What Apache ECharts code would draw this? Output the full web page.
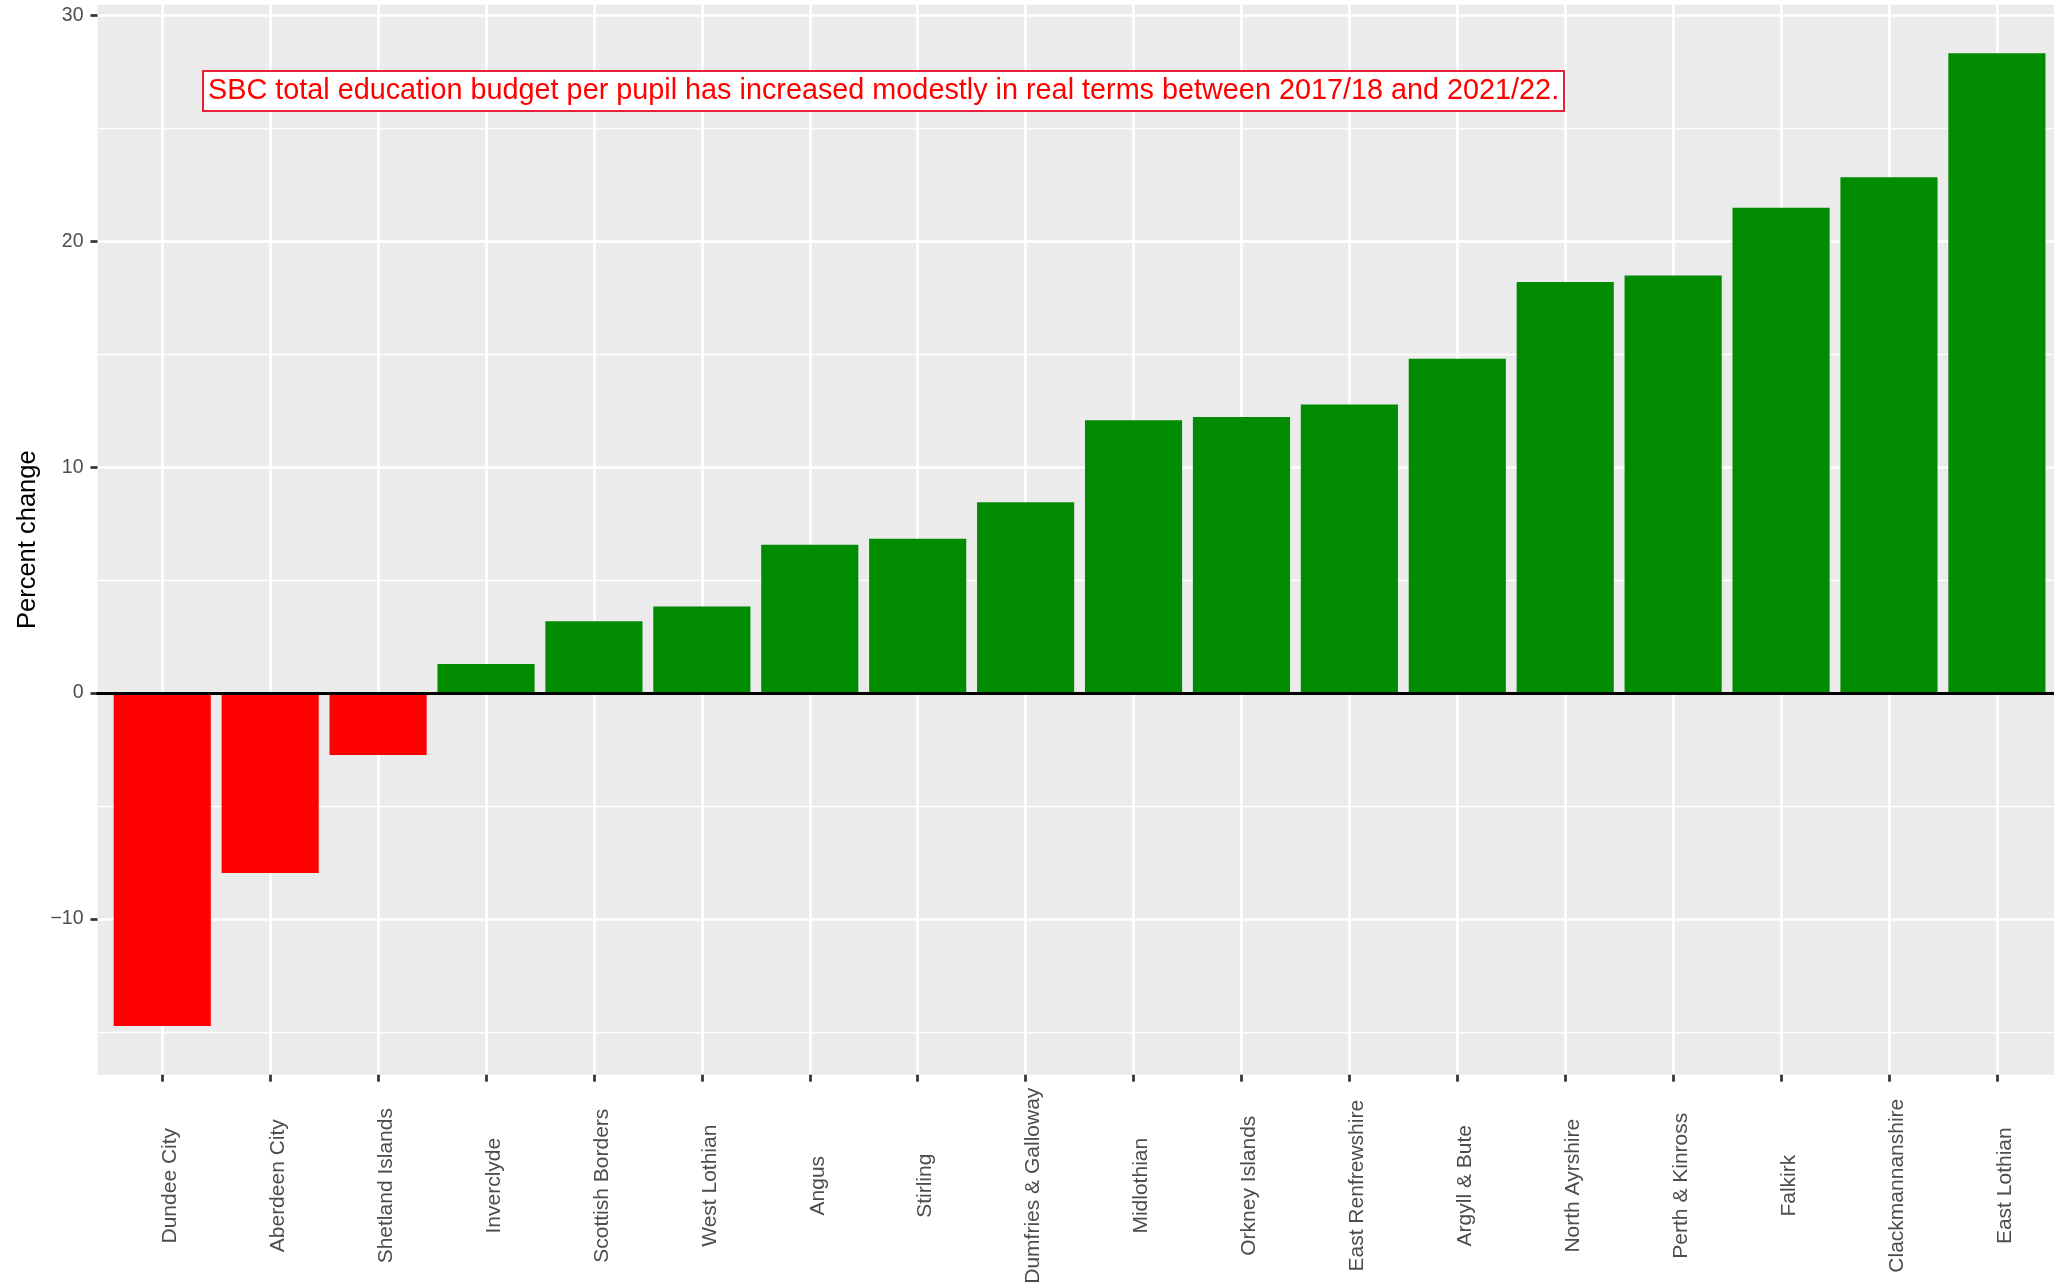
<!DOCTYPE html>
<html>
<head>
<meta charset="utf-8">
<title>Change in education budget per pupil</title>
<script src="https://cdn.jsdelivr.net/npm/echarts@6/dist/echarts.min.js"></script>
<style>
  html, body { margin: 0; padding: 0; background: #fff; }
  #chart { width: 2054px; height: 1287px; }
</style>
</head>
<body>
<div id="chart"></div>
<script>
const councils = [
  'Dundee City', 'Aberdeen City', 'Shetland Islands', 'Inverclyde', 'Scottish Borders',
  'West Lothian', 'Angus', 'Stirling', 'Dumfries & Galloway', 'Midlothian',
  'Orkney Islands', 'East Renfrewshire', 'Argyll & Bute', 'North Ayrshire',
  'Perth & Kinross', 'Falkirk', 'Clackmannanshire', 'East Lothian'
]
const pctChange = [
  -14.74, -7.96, -2.74, 1.29, 3.18,
  3.83, 6.57, 6.83, 8.45, 12.08,
  12.22, 12.77, 14.80, 18.20,
  18.48, 21.49, 22.83, 28.32
]
const majorTicks = [-10, 0, 10, 20, 30]
const minorTicks = [-15, -5, 5, 15, 25]
const note = 'SBC total education budget per pupil has increased modestly in real terms between 2017/18 and 2021/22.'

const FONT = '"Liberation Sans", Arial, sans-serif'
const GREEN = '#008B00'
const RED = '#FF0000'
const PANEL = '#EBEBEB'

// panel layout in pixels (ggplot style: 0.6 band padding on a discrete axis, 5% on y)
const panelLeft = 97.5
const panelTop = 4.7
const panelBottom = 1074.7
const step = 107.92
const firstCenter = panelLeft + 0.6 * step

const lo = Math.min(0, ...pctChange)
const hi = Math.max(0, ...pctChange)
const yMin = lo - 0.05 * (hi - lo)
const yMax = hi + 0.05 * (hi - lo)
const py = (v) => panelTop + (yMax - v) / (yMax - yMin) * (panelBottom - panelTop)

const W = 2054, H = 1287
const hidden = { show: false }

const chart = echarts.init(document.getElementById('chart'), null, { renderer: 'canvas' })

chart.setOption({
  animation: false,
  backgroundColor: '#fff',
  title: {
    text: note,
    left: 203,
    top: 71,
    padding: [5, 5],
    backgroundColor: '#fff',
    borderColor: '#E8203A',
    borderWidth: 2,
    textStyle: { color: RED, fontSize: 28.8, fontWeight: 'normal', fontFamily: FONT, lineHeight: 30 },
  },
  grid: [
    // 0: panel background, zero line, y title
    { left: panelLeft, width: W - panelLeft, top: panelTop, height: panelBottom - panelTop,
      show: true, backgroundColor: PANEL, borderWidth: 0, outerBoundsMode: 'none' },
    // 1: major horizontal lines + y labels
    { left: panelLeft, width: W - panelLeft, top: py(majorTicks[majorTicks.length - 1]),
      height: py(majorTicks[0]) - py(majorTicks[majorTicks.length - 1]), outerBoundsMode: 'none' },
    // 2: minor horizontal lines
    { left: panelLeft, width: W - panelLeft, top: py(minorTicks[minorTicks.length - 1]),
      height: py(minorTicks[0]) - py(minorTicks[minorTicks.length - 1]), outerBoundsMode: 'none' },
    // 3: vertical lines, x ticks and labels (category centres)
    { left: firstCenter, width: step * (councils.length - 1), top: panelTop,
      height: panelBottom - panelTop, outerBoundsMode: 'none' },
    // 4: bars
    { left: firstCenter - step / 2, width: step * councils.length, top: panelTop,
      height: panelBottom - panelTop, outerBoundsMode: 'none' },
  ],
  xAxis: [
    { gridIndex: 0, type: 'value', min: 0, max: 1, z: 5,
      axisLine: { show: true, onZero: true, lineStyle: { color: '#000', width: 3 } },
      axisTick: hidden, axisLabel: hidden, splitLine: hidden },
    { gridIndex: 1, type: 'value', show: false },
    { gridIndex: 2, type: 'value', show: false },
    { gridIndex: 3, type: 'category', data: councils, boundaryGap: false,
      axisLine: { show: false, onZero: false },
      axisTick: { show: true, length: 7, lineStyle: { color: '#333', width: 2.7 } },
      axisLabel: {
        rotate: 90, align: 'center', verticalAlign: 'top', lineHeight: 16,
        margin: 111, interval: 0, color: '#4D4D4D', fontSize: 21, fontFamily: FONT,
      },
      splitLine: { show: true, lineStyle: { color: '#fff', width: 2.7 } } },
    { gridIndex: 4, type: 'category', data: councils, show: false },
  ],
  yAxis: [
    { gridIndex: 0, type: 'value', min: yMin, max: yMax,
      name: 'Percent change', nameLocation: 'middle', nameRotate: 90, nameGap: 57,
      nameTextStyle: { color: '#000', fontSize: 25.5, fontFamily: FONT },
      axisLine: hidden, axisTick: hidden, axisLabel: hidden, splitLine: hidden },
    { gridIndex: 1, type: 'value', min: majorTicks[0], max: majorTicks[majorTicks.length - 1],
      interval: majorTicks[1] - majorTicks[0],
      axisLine: hidden,
      axisTick: { show: true, length: 7, lineStyle: { color: '#333', width: 2.7 } },
      axisLabel: { margin: 14, color: '#4D4D4D', fontSize: 19.5, fontFamily: FONT,
        formatter: (v) => String(v).replace('-', '\u2212') },
      splitLine: { show: true, lineStyle: { color: '#fff', width: 2.7 } } },
    { gridIndex: 2, type: 'value', min: minorTicks[0], max: minorTicks[minorTicks.length - 1],
      interval: minorTicks[1] - minorTicks[0],
      axisLine: hidden, axisTick: hidden, axisLabel: hidden,
      splitLine: { show: true, lineStyle: { color: '#fff', width: 1.3 } } },
    { gridIndex: 3, type: 'value', min: 0, max: 1, show: false },
    { gridIndex: 4, type: 'value', min: yMin, max: yMax, show: false },
  ],
  series: [
    {
      type: 'bar',
      xAxisIndex: 4,
      yAxisIndex: 4,
      data: pctChange,
      barCategoryGap: '10%',
      itemStyle: { color: (p) => (p.value < 0 ? RED : GREEN) },
      silent: true,
    },
  ],
})
</script>
</body>
</html>
